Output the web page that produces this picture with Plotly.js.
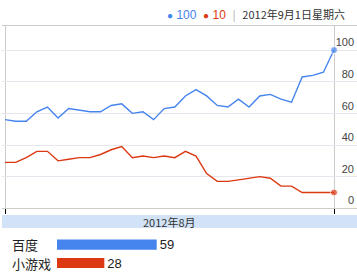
<!DOCTYPE html>
<html>
<head>
<meta charset="utf-8">
<script src="https://cdn.plot.ly/plotly-3.0.1.min.js"></script>
<style>html,body{margin:0;padding:0;background:#fff;}#chart{width:357px;height:275px;}</style>
</head>
<body>
<div id="chart"></div>
<script>
// Daily values, 2012-08-01 .. 2012-09-01
var days = [];
for (var d = 1; d <= 31; d++) days.push('2012-08-' + (d < 10 ? '0' + d : d));
days.push('2012-09-01');
var baiduValues = [56,55,55,61,64,57,63,62,61,61,65,66,60,61,56,63,64,71,75,71,65,64,69,64,71,72,69,67,83,84,86,100];
var gameValues  = [29,29,32,36,36,30,31,32,32,34,37,39,32,33,32,33,32,36,33,22,17,17,18,19,20,19,14,14,10,10,10,10];
var seriesNames = ['百度', '小游戏'];
var avgValues = [59, 28];
var yTicks = [0, 20, 40, 60, 80, 100];
var monthLabel = '2012年8月';
var dateLabel = '2012年9月1日星期六';

var BLUE = '#4684ee', RED = '#dc3912';
var xIdx = days.map(function(_, i){ return i; });
var n = days.length;
function endMarkers(){ return xIdx.map(function(i){ return i === n - 1 ? 7 : 0; }); }

var traces = [
  {x: xIdx, y: baiduValues, type: 'scatter', mode: 'lines+markers', line: {color: BLUE, width: 1.4},
   marker: {color: BLUE, size: endMarkers()}, cliponaxis: false, hoverinfo: 'none', xaxis: 'x', yaxis: 'y'},
  {x: xIdx, y: gameValues, type: 'scatter', mode: 'lines+markers', line: {color: RED, width: 1.4},
   marker: {color: RED, size: endMarkers()}, cliponaxis: false, hoverinfo: 'none', xaxis: 'x', yaxis: 'y'},
  {x: avgValues, y: seriesNames, type: 'bar', orientation: 'h', width: 0.56,
   marker: {color: [BLUE, RED]}, text: avgValues.map(String), textposition: 'outside', constraintext: 'none',
   textfont: {family: 'Liberation Sans, Arial, sans-serif', size: 13, color: '#222'},
   cliponaxis: false, hoverinfo: 'none', xaxis: 'x2', yaxis: 'y2'}
];

var W = 357, H = 275;
var pxPerDay = 329 / (n - 1);
var layout = {
  width: W, height: H, margin: {l: 0, r: 0, t: 0, b: 0},
  paper_bgcolor: '#fff', plot_bgcolor: '#fff', showlegend: false,
  font: {family: 'Liberation Sans, Arial, sans-serif', size: 11, color: '#444'},
  xaxis: {domain: [2 / W, 1], range: [-3 / pxPerDay, (n - 1) + 23 / pxPerDay],
    tickvals: [0, n - 1], showticklabels: false, ticks: 'outside', ticklen: 5, tickcolor: '#000', tickwidth: 1,
    showgrid: true, gridcolor: '#cccccc', gridwidth: 1, zeroline: false,
    showline: true, mirror: true, linecolor: '#cccccc', linewidth: 1, fixedrange: true},
  yaxis: {domain: [(H - 208.3) / H, (H - 26) / H], range: [0, 115.2], side: 'right',
    tickvals: yTicks, ticktext: yTicks.map(String), ticklabelposition: 'inside top',
    ticks: '', showgrid: true, gridcolor: '#e6e6ee', zeroline: false, showline: false,
    tickfont: {size: 11, color: '#444'}, fixedrange: true},
  xaxis2: {domain: [57 / W, 1], range: [0, avgValues[0] * 300 / 99.7], visible: false, fixedrange: true},
  yaxis2: {domain: [0.5 / H, (H - 233.2) / H], autorange: 'reversed', type: 'category',
    visible: false, fixedrange: true},
  shapes: [
    {type: 'rect', xref: 'paper', yref: 'paper', x0: 2 / W, x1: 1, y0: (H - 228) / H, y1: (H - 215) / H,
     fillcolor: '#d2e3f7', line: {width: 0}, layer: 'below'}
  ],
  annotations: [
    {xref: 'x', yref: 'paper', x: (n - 1) / 2, y: (H - 221.5) / H, text: monthLabel, showarrow: false,
     xanchor: 'center', yanchor: 'middle', font: {family: 'Noto Sans CJK SC, sans-serif', size: 11, color: '#333'}},
    {xref: 'paper', yref: 'paper', x: 347 / W, y: (H - 14) / H, xanchor: 'right', yanchor: 'middle', showarrow: false,
     text: '<span style="color:' + BLUE + ';font-size:10px">●</span> <span style="color:' + BLUE + '">' + baiduValues[n - 1] + '</span>' +
           '  <span style="color:' + RED + ';font-size:10px">●</span> <span style="color:' + RED + '">' + gameValues[n - 1] + '</span>' +
           '  <span style="color:#bbb">|</span>  <span style="font-family:Noto Sans CJK SC;font-size:11px;color:#333">' + dateLabel + '</span>',
     font: {family: 'Liberation Sans, Arial, sans-serif', size: 12}}
  ]
};
seriesNames.forEach(function(name){
  layout.annotations.push({xref: 'paper', yref: 'y2', x: 10 / W, y: name, text: name, showarrow: false,
    xanchor: 'left', yanchor: 'middle', font: {family: 'Noto Sans CJK SC, sans-serif', size: 13, color: '#222'}});
});

Plotly.newPlot('chart', traces, layout, {staticPlot: true, displayModeBar: false});
</script>
</body>
</html>
